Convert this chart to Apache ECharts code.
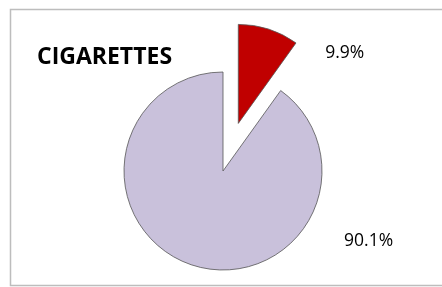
<!DOCTYPE html>
<html><head><meta charset="utf-8">
<script src="https://cdn.jsdelivr.net/npm/echarts@6/dist/echarts.min.js"></script>
<style>html,body{margin:0;padding:0;background:#fff}#c{width:442px;height:287px}</style>
</head><body><div id="c"></div>
<script>
const title = 'CIGARETTES';
const categories = ['Smokers', 'Non-smokers'];
const values = [9.9, 90.1];
const labels = ['9.9%', '90.1%'];
const colors = ['#C00000', '#C9C1DB'];
const labelShift = [[17, 38], [240, -39]];

const chart = echarts.init(document.getElementById('c'), null, {renderer: 'canvas'});
chart.setOption({
  animation: false,
  graphic: [{
    type: 'rect', shape: {x: 10.5, y: 9.5, width: 460, height: 276},
    style: {fill: 'none', stroke: '#BDBDBD', lineWidth: 1.5}, silent: true, z: -1
  }],
  title: {
    text: title, left: 32, top: 41,
    textStyle: {fontFamily: 'Open Sans', fontWeight: 'bold', fontSize: 23, color: '#000'}
  },
  series: [{
    type: 'pie',
    center: [223, 171],
    radius: 99,
    startAngle: 90,
    clockwise: true,
    selectedMode: 'single',
    selectedOffset: 50,
    itemStyle: {borderColor: '#555', borderWidth: 0.8},
    label: {
      show: true, position: 'outside',
      formatter: p => labels[p.dataIndex],
      fontFamily: 'Open Sans', fontSize: 17.5, color: '#000'
    },
    labelLine: {show: false},
    labelLayout: p => ({dx: labelShift[p.dataIndex][0], dy: labelShift[p.dataIndex][1]}),
    emphasis: {disabled: true},
    data: categories.map((c, i) => ({
      name: c, value: values[i], selected: i === 0,
      itemStyle: {color: colors[i]}
    }))
  }]
});
</script></body></html>
